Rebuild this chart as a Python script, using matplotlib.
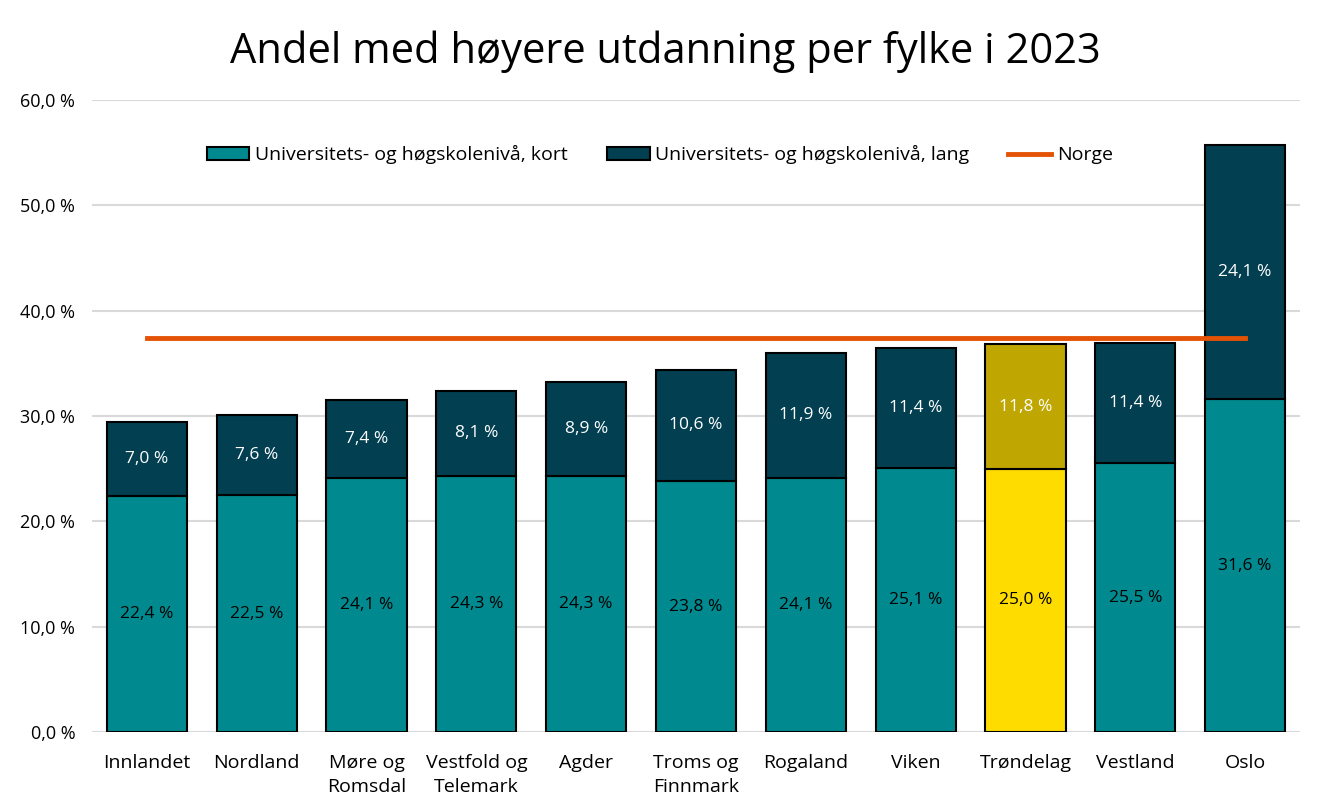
import matplotlib.pyplot as plt
from matplotlib.ticker import FuncFormatter

fylker = ['Innlandet', 'Nordland', 'Møre og\nRomsdal', 'Vestfold og\nTelemark', 'Agder',
          'Troms og\nFinnmark', 'Rogaland', 'Viken', 'Trøndelag', 'Vestland', 'Oslo']
kort = [22.4, 22.5, 24.1, 24.3, 24.3, 23.8, 24.1, 25.1, 25.0, 25.5, 31.6]
lang = [7.0, 7.6, 7.4, 8.1, 8.9, 10.6, 11.9, 11.4, 11.8, 11.4, 24.1]
norge = 37.4
highlight = 'Trøndelag'

plt.rcParams['font.family'] = ['Open Sans', 'DejaVu Sans']

teal = '#008A8F'
dark = '#023F51'
yellow = '#FFDC00'
olive = '#BFA600'
orange = '#E35205'

fig = plt.figure(figsize=(13.31, 8.11), dpi=100)
ax = fig.add_axes([92 / 1331, 79 / 811, 1208 / 1331, 632 / 811])

x = list(range(len(fylker)))
c_kort = [yellow if f == highlight else teal for f in fylker]
c_lang = [olive if f == highlight else dark for f in fylker]

b1 = ax.bar(x, kort, width=0.73, color=c_kort, edgecolor='black', linewidth=1.5,
            label='Universitets- og høgskolenivå, kort', zorder=2)
b2 = ax.bar(x, lang, width=0.73, bottom=kort, color=c_lang, edgecolor='black', linewidth=1.5,
            label='Universitets- og høgskolenivå, lang', zorder=2)
ln, = ax.plot([x[0], x[-1]], [norge, norge], color=orange, linewidth=3.5, label='Norge', zorder=3)

def fmt(v):
    return f'{v:.1f}'.replace('.', ',') + ' %'

for i in x:
    ax.text(i, kort[i] / 2, fmt(kort[i]), ha='center', va='center', fontsize=12.5, color='black', zorder=4)
    ax.text(i, kort[i] + lang[i] / 2, fmt(lang[i]), ha='center', va='center', fontsize=12.5, color='white', zorder=4)

ax.set_xlim(-0.5, 10.5)
ax.set_ylim(0, 60)
ax.set_yticks(range(0, 61, 10))
ax.yaxis.set_major_formatter(FuncFormatter(lambda v, p: fmt(v)))
ax.set_xticks(x)
ax.set_xticklabels(fylker, fontsize=14, linespacing=1.4)
ax.tick_params(axis='y', labelsize=13, length=0, pad=12)
ax.tick_params(axis='x', length=0, pad=16)
ax.grid(axis='y', color='#D9D9D9', linewidth=1.5, zorder=0)
ax.set_axisbelow(True)
for s in ax.spines.values():
    s.set_visible(False)

fig.suptitle('Andel med høyere utdanning per fylke i 2023', fontsize=30, x=0.5, y=0.963, va='top')

ax.legend(handles=[b1, b2, ln], loc='center', bbox_to_anchor=(0.47, 0.913), ncol=3, frameon=False,
          fontsize=14, handlelength=2.2, handletextpad=0.3, columnspacing=2.0)

fig.savefig('out.png', dpi=100)
